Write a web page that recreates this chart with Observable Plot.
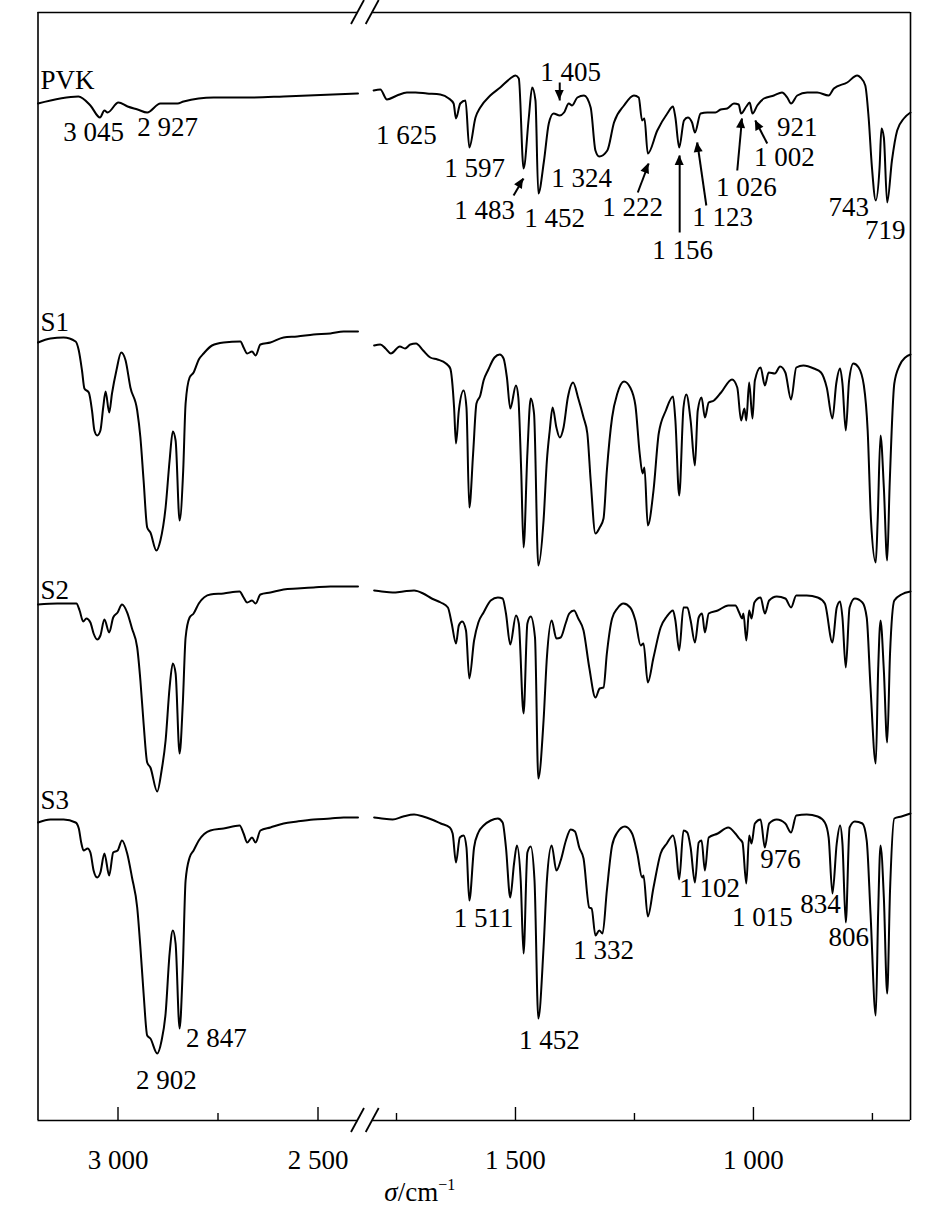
<!DOCTYPE html>
<html><head><meta charset="utf-8">
<script src="https://cdn.jsdelivr.net/npm/d3@7"></script>
<script src="https://cdn.jsdelivr.net/npm/@observablehq/plot@0.6"></script>
<style>body{margin:0;background:#fff} svg text{font-family:"Liberation Serif",serif}</style>
</head><body><div id="chart"></div>
<script>
// wavenumber (cm^-1), transmittance (a.u., spectra stacked)
const PVK_L = [[3200,101.7],[3099,102.4],[3069,101.5],[3045,100.3],[3034,101.0],[3026,100.8],[2999,101.8],[2976,101.4],[2951,101.1],[2927,100.8],[2894,101.7],[2851,101.7],[2836,101.9],[2761,102.3],[2669,102.3],[2586,102.4],[2400,102.7]];
const PVK_R = [[1798,103.0],[1784,103.1],[1770,102.1],[1749,102.5],[1728,102.8],[1710,102.8],[1686,102.7],[1658,102.6],[1640,102.2],[1630,101.7],[1625,100.2],[1616,101.7],[1605,102.0],[1597,97.3],[1584,100.3],[1574,101.3],[1553,102.5],[1532,103.3],[1511,104.2],[1500,104.5],[1493,104.2],[1483,95.2],[1472,100.3],[1465,103.3],[1458,102.0],[1452,92.7],[1440,96.0],[1430,99.7],[1420,100.7],[1407,100.5],[1398,100.8],[1388,101.7],[1381,101.5],[1370,102.3],[1356,102.5],[1342,101.3],[1332,97.0],[1324,96.4],[1307,97.0],[1293,99.8],[1272,101.5],[1251,102.5],[1241,102.3],[1234,100.0],[1229,100.2],[1222,96.7],[1202,99.0],[1181,100.7],[1169,101.4],[1164,100.3],[1156,97.3],[1146,100.0],[1138,100.3],[1129,99.8],[1123,98.8],[1111,100.7],[1097,100.8],[1080,100.8],[1069,101.1],[1055,101.2],[1041,101.7],[1031,101.6],[1026,100.7],[1015,101.4],[1008,101.8],[1002,100.7],[992,101.5],[978,102.2],[957,102.5],[940,102.8],[929,102.3],[921,101.7],[908,102.5],[887,102.8],[866,102.8],[842,102.5],[831,103.2],[803,103.8],[782,104.5],[775,104.3],[765,103.5],[758,100.3],[751,95.3],[743,92.0],[735,95.3],[731,99.2],[726,98.3],[719,91.8],[709,96.0],[698,99.0],[684,100.2],[670,100.8]];
const S1_L = [[3200,77.8],[3169,78.2],[3136,78.3],[3106,77.9],[3098,77.0],[3090,75.0],[3084,73.2],[3073,72.8],[3065,71.0],[3059,69.0],[3052,68.5],[3044,69.0],[3037,71.3],[3031,72.9],[3022,70.8],[3015,72.7],[3004,75.0],[2992,76.8],[2981,76.0],[2969,73.3],[2952,71.0],[2944,68.3],[2936,64.0],[2927,59.3],[2919,58.8],[2904,57.0],[2894,58.0],[2881,61.3],[2871,66.0],[2863,68.9],[2856,68.0],[2846,60.0],[2837,65.0],[2831,71.7],[2821,74.3],[2811,74.8],[2798,76.1],[2786,76.7],[2765,77.5],[2736,77.8],[2694,77.9],[2686,77.3],[2677,76.7],[2665,76.9],[2656,76.5],[2644,77.6],[2619,77.8],[2586,78.3],[2552,78.4],[2511,78.6],[2469,78.7],[2436,78.9],[2400,78.9]];
const S1_R = [[1797,77.5],[1784,77.6],[1773,77.2],[1762,76.7],[1743,77.4],[1732,77.2],[1721,77.6],[1709,77.7],[1694,77.0],[1679,76.3],[1664,76.1],[1646,75.7],[1637,75.2],[1629,71.3],[1625,67.7],[1619,71.0],[1609,73.0],[1603,71.3],[1597,61.3],[1589,66.7],[1582,71.7],[1574,72.5],[1567,74.0],[1557,75.1],[1544,76.3],[1533,76.6],[1525,76.2],[1518,74.3],[1511,71.2],[1499,73.5],[1494,72.3],[1488,65.0],[1483,57.3],[1475,66.7],[1468,72.2],[1461,70.7],[1452,55.5],[1441,60.0],[1434,66.0],[1428,69.0],[1422,71.3],[1414,69.3],[1407,68.3],[1399,69.3],[1390,72.3],[1379,73.8],[1368,72.2],[1357,70.3],[1349,68.7],[1342,64.0],[1332,58.7],[1323,59.3],[1315,60.2],[1308,65.0],[1297,70.3],[1286,72.7],[1272,73.9],[1259,73.3],[1248,71.5],[1239,66.7],[1233,64.7],[1229,65.3],[1222,59.5],[1210,63.0],[1199,68.7],[1184,71.0],[1169,72.4],[1164,70.0],[1156,62.5],[1147,71.3],[1141,72.6],[1132,70.0],[1123,65.5],[1117,71.0],[1109,72.3],[1102,70.3],[1094,71.8],[1083,72.0],[1068,72.8],[1045,74.1],[1034,73.3],[1026,70.0],[1019,71.2],[1015,70.0],[1009,73.8],[1002,70.2],[997,74.0],[985,75.3],[976,73.5],[968,74.8],[955,74.7],[944,75.4],[933,74.8],[921,72.1],[910,75.3],[895,75.5],[873,75.2],[858,74.8],[846,73.3],[834,70.2],[826,73.7],[818,75.2],[813,73.7],[806,69.0],[799,74.0],[790,75.7],[779,75.3],[768,73.5],[760,69.0],[753,60.0],[743,55.8],[739,60.0],[733,68.5],[726,63.3],[719,56.0],[714,63.3],[704,73.7],[693,75.5],[681,76.3],[670,76.6]];
const S2_L = [[3200,51.6],[3152,51.7],[3104,51.7],[3096,51.0],[3087,49.9],[3079,50.2],[3069,49.8],[3061,48.7],[3052,48.1],[3044,48.5],[3034,50.1],[3022,48.8],[3012,50.3],[3001,50.8],[2990,51.6],[2977,50.8],[2965,49.2],[2952,47.3],[2944,44.0],[2936,39.7],[2927,35.8],[2919,35.3],[2902,32.9],[2891,35.0],[2881,38.0],[2871,43.3],[2863,45.7],[2856,44.7],[2846,36.7],[2838,41.7],[2831,48.3],[2821,50.3],[2811,50.7],[2798,51.7],[2769,52.6],[2736,52.7],[2696,52.9],[2686,52.3],[2677,51.8],[2665,52.0],[2656,51.7],[2644,52.6],[2619,52.8],[2586,53.1],[2552,53.2],[2511,53.3],[2469,53.4],[2400,53.4]];
const S2_R = [[1797,53.0],[1781,52.9],[1758,52.8],[1736,52.9],[1713,53.0],[1694,52.7],[1676,52.2],[1657,51.8],[1642,51.3],[1634,49.7],[1625,47.7],[1619,49.5],[1612,49.9],[1604,49.0],[1597,44.2],[1587,48.0],[1578,49.8],[1567,50.8],[1552,52.0],[1537,52.3],[1527,52.2],[1520,50.7],[1511,47.6],[1499,50.5],[1493,49.7],[1483,40.7],[1475,49.7],[1468,50.4],[1459,48.3],[1452,34.2],[1441,40.0],[1434,46.3],[1424,50.0],[1414,48.2],[1405,48.3],[1394,49.8],[1387,50.7],[1377,51.0],[1368,50.2],[1357,49.0],[1345,45.3],[1332,42.3],[1323,43.2],[1315,43.3],[1308,46.7],[1297,50.2],[1286,51.2],[1273,51.7],[1259,51.3],[1248,50.0],[1237,47.5],[1231,47.7],[1222,43.8],[1210,46.3],[1195,49.3],[1182,50.4],[1169,51.0],[1164,50.0],[1156,47.0],[1147,51.3],[1139,51.3],[1132,50.0],[1123,47.8],[1115,50.3],[1108,50.7],[1102,48.8],[1094,50.7],[1075,51.0],[1053,51.5],[1038,51.5],[1030,50.8],[1024,50.2],[1021,50.7],[1015,48.0],[1009,51.0],[1004,50.2],[998,51.8],[985,52.3],[976,50.7],[967,52.0],[951,52.4],[933,52.2],[921,51.3],[910,52.5],[888,52.5],[865,52.3],[850,51.7],[834,47.8],[825,51.3],[818,51.9],[813,50.3],[806,45.3],[798,51.3],[787,52.2],[771,51.8],[762,50.3],[754,43.3],[743,35.7],[738,45.0],[733,50.0],[726,45.0],[719,37.8],[713,46.7],[704,52.0],[689,52.6],[670,52.9]];
const S3_L = [[3200,29.8],[3169,30.1],[3136,30.1],[3106,29.8],[3098,29.2],[3092,27.8],[3086,27.0],[3076,27.2],[3069,26.8],[3061,25.0],[3052,24.3],[3044,24.8],[3034,26.7],[3022,24.5],[3012,26.8],[3001,27.0],[2990,28.0],[2977,26.7],[2965,24.3],[2952,21.3],[2944,17.3],[2936,12.7],[2927,8.5],[2919,8.2],[2902,6.7],[2891,8.0],[2881,10.7],[2871,16.7],[2863,19.0],[2856,17.7],[2846,9.2],[2838,15.3],[2831,24.0],[2821,26.3],[2811,27.0],[2798,28.0],[2769,29.0],[2736,29.2],[2696,29.5],[2686,28.7],[2677,27.8],[2665,28.3],[2656,27.8],[2644,29.0],[2619,29.3],[2586,29.7],[2552,29.9],[2511,30.1],[2469,30.2],[2436,30.3],[2400,30.3]];
const S3_R = [[1797,30.3],[1781,30.2],[1758,30.1],[1736,30.4],[1713,30.6],[1694,30.4],[1676,30.1],[1657,29.7],[1638,29.3],[1632,28.7],[1625,25.8],[1617,28.3],[1609,28.5],[1603,27.3],[1597,22.0],[1587,27.3],[1578,28.8],[1567,29.5],[1552,30.0],[1537,30.2],[1527,29.8],[1520,27.3],[1511,22.3],[1503,25.7],[1497,27.5],[1489,24.0],[1483,16.7],[1475,26.8],[1468,27.4],[1460,24.0],[1452,10.2],[1441,17.3],[1434,24.0],[1424,27.5],[1414,25.0],[1405,26.0],[1394,28.0],[1384,29.1],[1375,28.9],[1366,27.3],[1357,26.2],[1345,21.3],[1340,21.2],[1332,18.5],[1324,19.0],[1317,18.7],[1308,23.0],[1297,27.5],[1286,28.8],[1270,29.4],[1255,28.7],[1244,26.7],[1234,24.3],[1231,24.5],[1222,20.4],[1210,23.3],[1195,26.7],[1182,27.7],[1169,28.5],[1163,27.3],[1156,24.1],[1147,29.0],[1139,28.8],[1132,27.3],[1123,23.8],[1115,27.8],[1109,28.0],[1102,25.0],[1094,28.3],[1075,28.7],[1053,29.3],[1038,28.7],[1030,28.2],[1023,27.8],[1015,23.7],[1009,28.5],[1004,27.7],[997,29.7],[985,30.1],[976,27.3],[967,29.7],[951,30.1],[933,29.7],[921,28.8],[910,30.5],[888,30.6],[865,30.4],[850,29.8],[842,28.3],[834,22.7],[825,27.7],[818,29.5],[813,27.7],[806,19.8],[798,29.3],[787,29.9],[771,29.7],[762,28.0],[754,20.7],[743,10.5],[738,20.7],[733,27.5],[726,22.3],[719,12.7],[713,23.0],[704,30.2],[689,30.4],[670,30.7]];

const seriesNames = ["PVK", "S1", "S2", "S3"];
const seriesLabelPos = [[3194, 104.0], [3194, 79.8], [3194, 53.0], [3194, 32.0]];
const majorTicks = [3000, 2500, 1500, 1000];
const minorTicks = [2750, 1750, 1250, 750];

// peak labels: text, wavenumber, transmittance
const peakLabels = [
  ["3 045", 3061, 98.8], ["2 927", 2876, 99.3], ["1 625", 1729, 98.5], ["1 597", 1586, 95.2],
  ["1 483", 1565, 91.0], ["1 452", 1418, 90.2], ["1 324", 1361, 94.2], ["1 405", 1384, 104.8],
  ["1 222", 1254, 91.3], ["1 156", 1149, 87.0], ["1 123", 1065, 90.3], ["1 026", 1015, 93.3],
  ["1 002", 935, 96.3], ["921", 908, 99.3], ["743", 800, 91.3], ["719", 723, 89.0],
  ["2 847", 2754, 8.2], ["2 902", 2879, 4.0], ["1 511", 1567, 20.2], ["1 332", 1315, 17.0],
  ["1 452", 1429, 8.0], ["1 102", 1092, 23.2], ["1 015", 981, 20.3], ["976", 943, 26.1],
  ["834", 859, 21.6], ["806", 800, 18.3]
];
// arrows: from (wn1,t1) to (wn2,t2)
const arrowList = [
  [1504, 92.5, 1483, 94.2], [1407, 103.8, 1407, 102.0], [1243, 92.8, 1220, 95.7],
  [1155, 88.8, 1155, 96.5], [1099, 91.5, 1118, 97.8], [1034, 95.0, 1024, 100.2], [971, 97.7, 996, 100.0]
];

const segs = {PVK_L, PVK_R, S1_L, S1_R, S2_L, S2_R, S3_L, S3_R};
const rows = [];
for (const [key, arr] of Object.entries(segs)) for (const [wn, t] of arr) rows.push({key, wn, t});

const TOP = 110.8;
const fmt = d => d3.format(",")(d).replace(",", " ");
const font = "Liberation Serif";

const chart = Plot.plot({
  width: 945, height: 1215,
  marginTop: 12, marginBottom: 95, marginLeft: 37.5, marginRight: 35,
  style: {fontFamily: font, fontSize: "27px", background: "white", color: "black", overflow: "visible"},
  x: {type: "linear", domain: [3200, 2400, 1800, 670], range: [37.5, 357.5, 372.2, 910], axis: null},
  y: {domain: [0, TOP], axis: null},
  marks: [
    Plot.ruleX([3200, 670], {y1: 0, y2: TOP, strokeWidth: 1.6}),
    Plot.ruleY([0, TOP], {x1: 3200, x2: 2400, strokeWidth: 1.6}),
    Plot.ruleY([0, TOP], {x1: 1800, x2: 670, strokeWidth: 1.6}),
    Plot.ruleX(majorTicks, {y1: 0, y2: 1.3, strokeWidth: 1.4}),
    Plot.ruleX(minorTicks, {y1: 0, y2: 0.7, strokeWidth: 1.4}),
    Plot.text(majorTicks, {x: d => d, y: -4, text: fmt, fontSize: 27, fontFamily: font, lineAnchor: "middle"}),
    Plot.line(rows, {x: "wn", y: "t", z: "key", curve: "monotone-x", strokeWidth: 2, stroke: "black"}),
    Plot.text(seriesNames, {x: (d, i) => seriesLabelPos[i][0], y: (d, i) => seriesLabelPos[i][1], text: d => d, textAnchor: "start", fontSize: 27, fontFamily: font, lineAnchor: "middle"}),
    Plot.text(peakLabels, {x: d => d[1], y: d => d[2], text: d => d[0], fontSize: 27, fontFamily: font, lineAnchor: "middle"}),
    Plot.link(arrowList, {x1: d => d[0], y1: d => d[1], x2: d => d[2], y2: d => d[3], strokeWidth: 2, stroke: "black"})
  ]
});

document.getElementById("chart").appendChild(chart);

const svg = d3.select(chart);
const xs = chart.scale("x"), ys = chart.scale("y");

// filled arrowheads at the arrow tips
for (const [a, b, c, d] of arrowList) {
  const x1 = xs.apply(a), y1 = ys.apply(b), x2 = xs.apply(c), y2 = ys.apply(d);
  const ang = Math.atan2(y2 - y1, x2 - x1), L = 10, W = 4.5;
  const bx = x2 - L * Math.cos(ang), by = y2 - L * Math.sin(ang);
  const px = -Math.sin(ang) * W, py = Math.cos(ang) * W;
  svg.append("path").attr("d", `M${x2},${y2}L${bx + px},${by + py}L${bx - px},${by - py}Z`).attr("fill", "black");
}

// axis break marks
const yTop = ys.apply(TOP), yBot = ys.apply(0);
for (const v of [2400, 1800]) {
  const px = xs.apply(v);
  for (const py of [yTop, yBot]) {
    svg.append("line").attr("x1", px - 6.5).attr("y1", py + 12).attr("x2", px + 6.5).attr("y2", py - 12)
      .attr("stroke", "black").attr("stroke-width", 1.8);
  }
}
// axis title
const title = svg.append("text").attr("x", xs.apply(1700)).attr("y", 1201).attr("text-anchor", "middle")
  .attr("font-family", font).attr("font-size", 27).attr("fill", "black");
title.append("tspan").attr("font-style", "italic").text("σ");
title.append("tspan").text("/cm");
title.append("tspan").attr("font-size", 16).attr("dy", -11).text("−1");
</script></body></html>
